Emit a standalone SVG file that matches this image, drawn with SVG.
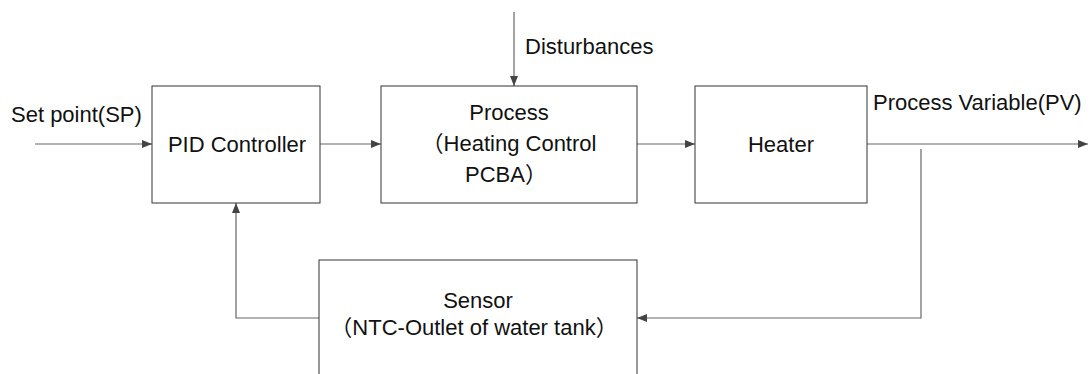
<svg xmlns="http://www.w3.org/2000/svg" width="1090" height="374" viewBox="0 0 1090 374">
<style>
.box{fill:#fff;stroke:#333;stroke-width:1}
.t{font-family:"Liberation Sans","Noto Sans CJK SC",Arial,sans-serif;font-size:22px;fill:#111}
.c{text-anchor:middle}
.ln{fill:none;stroke:#666;stroke-width:1.2}
</style>
<defs>
<marker id="ar" viewBox="0 0 10 10" refX="10" refY="5" markerWidth="10" markerHeight="10" markerUnits="userSpaceOnUse" orient="auto">
<path d="M0,1 L10,5 L0,9 Z" fill="#444"/>
</marker>
</defs>
<rect width="1090" height="374" fill="#fff"/>
<g id="connectors">
<line class="ln" x1="35" y1="144" x2="152" y2="144" marker-end="url(#ar)"/>
<line class="ln" x1="320" y1="144" x2="381" y2="144" marker-end="url(#ar)"/>
<line class="ln" x1="637" y1="144" x2="695" y2="144" marker-end="url(#ar)"/>
<line class="ln" x1="867" y1="144" x2="1088" y2="144" marker-end="url(#ar)"/>
<line class="ln" x1="514" y1="12" x2="514" y2="86" marker-end="url(#ar)"/>
<polyline class="ln" points="921,149 921,318 637,318" marker-end="url(#ar)"/>
<polyline class="ln" points="319,318 236,318 236,203" marker-end="url(#ar)"/>
</g>
<g id="labels">
<text class="t" x="11" y="122">Set point(SP)</text>
<text class="t" x="525" y="54">Disturbances</text>
<text class="t" x="873" y="110">Process Variable(PV)</text>
</g>
<g id="pid">
<rect class="box" x="152" y="86" width="168" height="117"/>
<text class="t c" x="237" y="152">PID Controller</text>
</g>
<g id="process">
<rect class="box" x="381" y="86" width="256" height="117"/>
<text class="t c" x="509" y="120">Process</text>
<text class="t c" x="509" y="151">（Heating Control</text>
<text class="t c" x="506" y="182">PCBA）</text>
</g>
<g id="heater">
<rect class="box" x="695" y="86" width="172" height="117"/>
<text class="t c" x="781" y="152">Heater</text>
</g>
<g id="sensor">
<rect class="box" x="319" y="260" width="318" height="130"/>
<text class="t c" x="478" y="308">Sensor</text>
<text class="t c" x="474" y="335">（NTC-Outlet of water tank）</text>
</g>
</svg>
